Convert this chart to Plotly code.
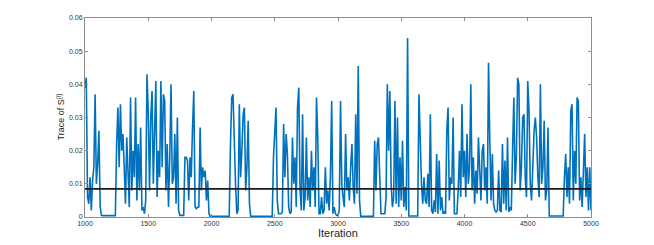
import plotly.graph_objects as go

# Trace values (in units of 1e-3), one every 10 iterations, 1000..5000
start_iter = 1000
step_iter = 10
trace_milli = [
    # 1000
    39, 42, 6, 4, 12, 2, 11, 15, 37, 10,
    # 1100
    16, 26, 3, 0.5, 0.4, 0.4, 0.4, 0.4, 0.4, 0.4,
    # 1200
    0.4, 0.4, 0.4, 0.4, 0.4, 22, 33, 15, 34, 20,
    # 1300
    25, 15, 4, 24, 10, 3, 36, 8, 20, 12,
    # 1400
    36, 5, 22, 8, 27, 2, 3, 1, 5, 43,
    # 1500
    32, 8, 30, 38, 10, 25, 41, 6, 20, 12,
    # 1600
    41, 15, 37, 35, 8, 22, 3, 18, 40, 10,
    # 1700
    12, 25, 4, 30, 2, 0.5, 0.5, 0.5, 0.5, 18,
    # 1800
    18, 17, 5, 18, 12, 27, 38, 3, 2.5, 3,
    # 1900
    3, 27, 8, 15, 12, 14, 5, 11, 1, 0.2,
    # 2000
    0.2, 0.2, 0.2, 0.2, 0.2, 0.2, 0.2, 0.2, 0.2, 0.2,
    # 2100
    0.2, 0.2, 0.2, 0.2, 0.2, 22, 36, 37, 20, 10,
    # 2200
    1, 2, 34, 12, 20, 31, 33, 8, 15, 29,
    # 2300
    4, 0.2, 0.2, 0.2, 0.2, 0.2, 0.2, 0.2, 0.2, 0.2,
    # 2400
    0.2, 0.2, 0.2, 0.2, 0.2, 0.2, 0.2, 0.2, 0.2, 18,
    # 2500
    26, 33, 5, 1, 1, 1, 1.5, 28, 12, 25,
    # 2600
    19, 3, 1, 1.5, 24, 10, 18, 3, 33, 39,
    # 2700
    8, 2, 31, 2, 6, 24, 5, 12, 3, 20,
    # 2800
    8, 15, 3, 36, 24, 1, 1, 6, 1, 2,
    # 2900
    15, 4, 8, 2, 12, 35, 1, 3, 1, 0.5,
    # 3000
    0.5, 2, 35, 10, 6, 3, 25, 8, 12, 5,
    # 3100
    15, 22, 9, 4, 31, 7, 45.5, 5, 0.2, 0.2,
    # 3200
    0.2, 0.2, 0.2, 0.2, 0.2, 0.2, 0.2, 0.2, 0.2, 23,
    # 3300
    8, 22, 24, 12, 1, 1, 1, 1, 6, 40,
    # 3400
    20, 38, 10, 3, 6, 35, 4, 30, 3, 18,
    # 3500
    5, 23, 3, 9, 2, 54, 0.3, 0.3, 0.3, 0.3,
    # 3600
    0.3, 0.3, 0.3, 0.3, 37, 22, 10, 4, 12, 5,
    # 3700
    4, 13, 3, 31, 2, 1, 5, 1.5, 19, 1,
    # 3800
    17, 2, 6, 1, 1.5, 1, 26, 33, 5, 12,
    # 3900
    10, 30, 1, 1, 1, 8, 20, 6, 34, 12,
    # 4000
    20, 6, 25, 10, 15, 40, 8, 18, 4, 14,
    # 4100
    7, 24, 12, 5, 20, 22, 8, 15, 4, 46.5,
    # 4200
    23, 5, 19, 4, 2, 1.5, 2, 14, 2, 1.5,
    # 4300
    22, 4, 17, 2, 24, 1.5, 3, 2, 20, 36,
    # 4400
    10, 18, 42, 40, 8, 15, 30, 31, 12, 6,
    # 4500
    41, 32, 10, 5, 15, 26, 30, 24, 12, 6,
    # 4600
    40, 10, 15, 29, 5, 8, 27, 0.3, 0.3, 0.3,
    # 4700
    0.3, 0.3, 0.3, 0.3, 0.3, 0.3, 0.3, 0.3, 0.3, 12,
    # 4800
    19, 6, 15, 4, 32, 34, 5, 20, 10, 36,
    # 4900
    35, 5, 12, 3, 18, 25, 6, 15, 2, 15,
    # 5000
    2,
]
mean_level = 0.0085

x_tick_vals = [1000, 1500, 2000, 2500, 3000, 3500, 4000, 4500, 5000]
y_tick_vals = [0, 0.01, 0.02, 0.03, 0.04, 0.05, 0.06]
y_tick_text = ["0", "0.01", "0.02", "0.03", "0.04", "0.05", "0.06"]
x_title = "Iteration"
y_title = "Trace of S<sup>(i)</sup>"

iterations = [start_iter + step_iter * i for i in range(len(trace_milli))]
trace_vals = [v * 1e-3 for v in trace_milli]

fig = go.Figure()
fig.add_trace(go.Scatter(
    x=iterations, y=trace_vals, mode="lines",
    line=dict(color="#0072BD", width=1.6),
    showlegend=False, hoverinfo="skip",
))
fig.add_trace(go.Scatter(
    x=[iterations[0], iterations[-1]], y=[mean_level, mean_level], mode="lines",
    line=dict(color="#1a1a1a", width=1.7),
    showlegend=False, hoverinfo="skip",
))

font_family = "Liberation Sans, Arial, sans-serif"
axis_common = dict(
    showline=True, linecolor="#8c8c8c", linewidth=1, mirror="ticks",
    ticks="inside", ticklen=3, tickwidth=1, tickcolor="#8c8c8c",
    showgrid=False, zeroline=False, automargin=False,
    tickfont=dict(family=font_family, size=7, color="#333333"),
)

fig.update_layout(
    width=646, height=237,
    margin=dict(l=77, r=63, t=10, b=28),
    paper_bgcolor="white", plot_bgcolor="white",
    font=dict(family=font_family, color="#333333"),
    xaxis=dict(range=[1000, 5000], tickvals=x_tick_vals, **axis_common),
    yaxis=dict(range=[0, 0.06], tickvals=y_tick_vals, ticktext=y_tick_text, **axis_common),
    annotations=[
        dict(text=x_title, xref="paper", yref="paper", x=0.5, y=0,
             xanchor="center", yanchor="top", yshift=-8, showarrow=False,
             font=dict(family=font_family, size=11, color="#262626")),
        dict(text=y_title, xref="paper", yref="paper", x=0, y=0.5,
             xanchor="right", yanchor="middle", xshift=-17, textangle=-90,
             showarrow=False,
             font=dict(family=font_family, size=9, color="#262626")),
    ],
)

fig.write_html("out.html")
